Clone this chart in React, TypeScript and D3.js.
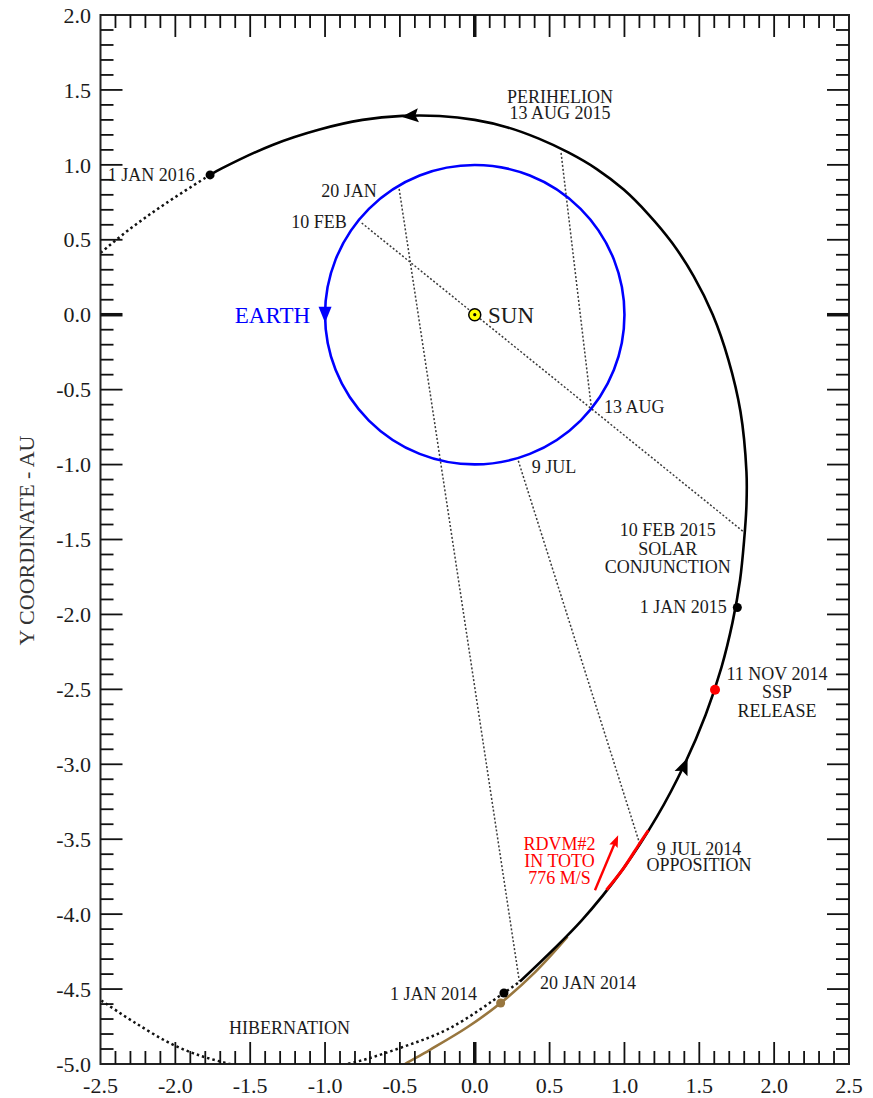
import React from "react";
import * as d3 from "d3";

type P = [number, number];

// ---------- data (AU, heliocentric) ----------
const xTickValues = [-2.5, -2.0, -1.5, -1.0, -0.5, 0.0, 0.5, 1.0, 1.5, 2.0, 2.5];
const yTickValues = [-5.0, -4.5, -4.0, -3.5, -3.0, -2.5, -2.0, -1.5, -1.0, -0.5, 0.0, 0.5, 1.0, 1.5, 2.0];

// solid orbit, 20 JAN 2014 -> 1 JAN 2016
const cometOrbit: P[] = [
  [0.302, -4.449], [0.713, -4.043], [0.991, -3.698], [1.218, -3.348], [1.400, -3.003],
  [1.542, -2.671], [1.648, -2.353], [1.722, -2.053], [1.772, -1.772], [1.799, -1.510],
  [1.815, -1.271], [1.815, -1.048], [1.775, -0.646], [1.694, -0.299], [1.590, 0.0],
  [1.462, 0.258], [1.318, 0.480], [1.160, 0.670], [0.995, 0.835], [0.815, 0.972],
  [0.625, 1.083], [0.428, 1.175], [0.220, 1.250], [0.0, 1.300], [-0.235, 1.326],
  [-0.483, 1.327], [-0.750, 1.300], [-1.037, 1.236], [-1.351, 1.133], [-1.690, 0.976],
  [-1.768, 0.933],
];
// red arc, rendezvous manoeuvre
const rdvmArc: P[] = [[0.880, -3.838], [0.991, -3.698], [1.100, -3.530], [1.160, -3.440]];
// dotted continuation after 1 JAN 2016
const orbitAfter2016: P[] = [[-1.768, 0.933], [-2.056, 0.748], [-2.300, 0.575], [-2.550, 0.370]];
// dotted hibernation track up to 20 JAN 2014
const hibernationTrack: P[] = [
  [-2.62, -4.50], [-2.49, -4.58], [-2.283, -4.716], [-1.991, -4.883], [-1.702, -4.983],
  [-1.300, -5.055], [-0.855, -5.0], [-0.499, -4.893], [-0.165, -4.760], [0.195, -4.526],
  [0.302, -4.449],
];
// brown approach track
const approachTrack: P[] = [
  [-0.55, -5.05], [-0.466, -5.0], [-0.299, -4.905], [-0.05, -4.755], [0.173, -4.593],
  [0.40, -4.39], [0.62, -4.15],
];
const earthOrbitRadius = 1.0;
const sunPos: P = [0, 0];

const sightLines: { from: P; to: P }[] = [
  { from: [-0.505, 0.840], to: [0.298, -4.449] },   // 20 JAN
  { from: [-0.755, 0.612], to: [1.805, -1.456] },   // 10 FEB (conjunction)
  { from: [0.780, -0.630], to: [0.576, 1.086] },    // 13 AUG (perihelion)
  { from: [0.291, -0.975], to: [1.104, -3.537] },   // 9 JUL (opposition)
];

const blackDots: P[] = [[-1.768, 0.933], [1.754, -1.954], [0.195, -4.526]];
const redDots: P[] = [[1.605, -2.503]];
const brownDots: P[] = [[0.173, -4.593]];

const orbitArrows: { at: P; toward: P }[] = [
  { at: [-0.433, 1.326], toward: [-0.750, 1.300] },
  { at: [1.400, -3.010], toward: [1.542, -2.671] },
];
const earthArrowAt: P = [-1.0, 0.0];
const rdvmVector: { from: P; to: P } = { from: [0.803, -3.840], to: [0.958, -3.473] };

type Label = { lines: string[]; at: P; anchor: "start" | "middle" | "end"; kind: string };
const labels: Label[] = [
  { lines: ["PERIHELION", "13 AUG 2015"], at: [0.570, 1.411], anchor: "middle", kind: "note" },
  { lines: ["1 JAN 2016"], at: [-1.87, 0.895], anchor: "end", kind: "note" },
  { lines: ["20 JAN"], at: [-0.655, 0.788], anchor: "end", kind: "note" },
  { lines: ["10 FEB"], at: [-0.855, 0.577], anchor: "end", kind: "note" },
  { lines: ["EARTH"], at: [-1.10, -0.053], anchor: "end", kind: "earth" },
  { lines: ["SUN"], at: [0.089, -0.053], anchor: "start", kind: "big" },
  { lines: ["13 AUG"], at: [0.863, -0.657], anchor: "start", kind: "note" },
  { lines: ["9 JUL"], at: [0.380, -1.057], anchor: "start", kind: "note" },
  { lines: ["10 FEB 2015", "SOLAR", "CONJUNCTION"], at: [1.290, -1.476], anchor: "middle", kind: "note" },
  { lines: ["1 JAN 2015"], at: [1.683, -1.991], anchor: "end", kind: "note" },
  { lines: ["11 NOV 2014", "SSP", "RELEASE"], at: [2.019, -2.436], anchor: "middle", kind: "note" },
  { lines: ["RDVM#2", "IN TOTO", "776 M/S"], at: [0.566, -3.570], anchor: "middle", kind: "red" },
  { lines: ["9 JUL 2014", "OPPOSITION"], at: [1.498, -3.604], anchor: "middle", kind: "note" },
  { lines: ["1 JAN 2014"], at: [-0.566, -4.571], anchor: "start", kind: "note" },
  { lines: ["20 JAN 2014"], at: [0.436, -4.500], anchor: "start", kind: "note" },
  { lines: ["HIBERNATION"], at: [-1.237, -4.798], anchor: "middle", kind: "note" },
];
const yAxisTitle = "Y COORDINATE - AU";

// ---------- styles ----------
const W = 873;
const H = 1098;
const FONT = "'Liberation Serif', 'Times New Roman', Times, serif";
const TEXT = "#1b1b1b";
const BROWN = "#98763e";
const labelStyle: Record<string, { size: number; color: string; lh: number }> = {
  note: { size: 18, color: TEXT, lh: 18.6 },
  red: { size: 18, color: "#ff0000", lh: 17 },
  earth: { size: 23, color: "#0000ff", lh: 20 },
  big: { size: 23, color: TEXT, lh: 20 },
};
const lineHeights: Record<string, number> = { PERIHELION: 15.5, "9 JUL 2014": 16.7 };

export default function App() {
  const x = d3.scaleLinear().domain([-2.5, 2.5]).range([100.5, 849]);
  const y = d3.scaleLinear().domain([-5, 2]).range([1064, 15]);
  const [x0, x1] = x.range();
  const [y0, y1] = [y(2), y(-5)];

  const line = d3
    .line<P>()
    .x((d) => x(d[0]))
    .y((d) => y(d[1]))
    .curve(d3.curveCatmullRom.alpha(0.5));
  const straight = d3.line<P>().x((d) => x(d[0])).y((d) => y(d[1]));

  const isMajor = (v: number) => Math.abs(v * 2 - Math.round(v * 2)) < 1e-6;
  const isZero = (v: number) => Math.abs(v) < 1e-6;
  const minorX = x.ticks(50).filter((v) => v > -2.49 && v < 2.49);
  const minorY = y.ticks(70).filter((v) => v > -4.99 && v < 1.99);
  const MAJ = 22;
  const MIN = 13;

  const arrowHead = (px: number, py: number, ang: number, L: number, w: number, notch: number) => {
    const c = Math.cos(ang), s = Math.sin(ang);
    const pt = (a: number, b: number) => [px + a * c - b * s, py + a * s + b * c];
    const tip = pt(L / 2, 0);
    const bl = pt(-L / 2, -w);
    const nb = pt(-L / 2 + notch, 0);
    const br = pt(-L / 2, w);
    return `M${tip[0]},${tip[1]}L${bl[0]},${bl[1]}L${nb[0]},${nb[1]}L${br[0]},${br[1]}Z`;
  };

  const rTip = [x(rdvmVector.to[0]), y(rdvmVector.to[1])];
  const rTail = [x(rdvmVector.from[0]), y(rdvmVector.from[1])];
  const rAng = Math.atan2(rTip[1] - rTail[1], rTip[0] - rTail[0]);

  return (
    <svg
      width={W}
      height={H}
      style={{ position: "absolute", left: 0, top: 0, background: "#fff" }}
      fontFamily={FONT}
    >
      <defs>
        <clipPath id="plot">
          <rect x={x0} y={y0} width={x1 - x0} height={y1 - y0} />
        </clipPath>
      </defs>
      <rect width={W} height={H} fill="#fff" />

      <g clipPath="url(#plot)">
        {/* sight lines */}
        {sightLines.map((s, i) => (
          <path
            key={i}
            d={straight([s.from, s.to]) || ""}
            fill="none"
            stroke="#3a3a3a"
            strokeWidth={1.5}
            strokeDasharray="2,2"
          />
        ))}
        {/* earth orbit */}
        <circle
          cx={x(sunPos[0])}
          cy={y(sunPos[1])}
          r={x(earthOrbitRadius) - x(0)}
          fill="none"
          stroke="#0000ff"
          strokeWidth={2.6}
        />
        {/* tracks */}
        <path d={line(approachTrack) || ""} fill="none" stroke={BROWN} strokeWidth={2.6} />
        <path
          d={line(hibernationTrack) || ""}
          fill="none"
          stroke="#111"
          strokeWidth={2.5}
          strokeDasharray="2.5,3"
        />
        <path
          d={line(orbitAfter2016) || ""}
          fill="none"
          stroke="#111"
          strokeWidth={2.5}
          strokeDasharray="2.5,3"
        />
        <path d={line(cometOrbit) || ""} fill="none" stroke="#000" strokeWidth={2.6} />
        <path d={line(rdvmArc) || ""} fill="none" stroke="#ff0000" strokeWidth={3} />

        {orbitArrows.map((a, i) => {
          const px = x(a.at[0]), py = y(a.at[1]);
          const ang = Math.atan2(y(a.toward[1]) - py, x(a.toward[0]) - px);
          return <path key={i} d={arrowHead(px, py, ang, 17, 7, 3)} fill="#000" />;
        })}
        <path
          d={arrowHead(x(earthArrowAt[0]), y(earthArrowAt[1]), Math.PI / 2, 16, 6.5, 0)}
          fill="#0000ff"
        />

        {/* rdvm vector */}
        <line
          x1={rTail[0]}
          y1={rTail[1]}
          x2={rTip[0] - 8 * Math.cos(rAng)}
          y2={rTip[1] - 8 * Math.sin(rAng)}
          stroke="#ff0000"
          strokeWidth={2.4}
        />
        <path
          d={arrowHead(rTip[0] - 6 * Math.cos(rAng), rTip[1] - 6 * Math.sin(rAng), rAng, 12, 4.5, 2)}
          fill="#ff0000"
        />

        {/* dots */}
        {blackDots.map((d, i) => (
          <circle key={"b" + i} cx={x(d[0])} cy={y(d[1])} r={4.5} fill="#000" />
        ))}
        {brownDots.map((d, i) => (
          <circle key={"br" + i} cx={x(d[0])} cy={y(d[1])} r={4.5} fill={BROWN} />
        ))}
        {redDots.map((d, i) => (
          <circle key={"r" + i} cx={x(d[0])} cy={y(d[1])} r={5} fill="#ff0000" />
        ))}
        {/* sun */}
        <circle cx={x(sunPos[0])} cy={y(sunPos[1])} r={6} fill="#ffff00" stroke="#000" strokeWidth={1.5} />
        <circle cx={x(sunPos[0])} cy={y(sunPos[1])} r={1.6} fill="#000" />
      </g>

      {/* frame */}
      <rect x={x0} y={y0} width={x1 - x0} height={y1 - y0} fill="none" stroke="#222" strokeWidth={2} />

      {/* x ticks (bottom and top, inward) */}
      {minorX.map((v) => {
        const len = isMajor(v) ? MAJ : MIN;
        const sw = isZero(v) ? 3.5 : 1.8;
        return (
          <g key={"xt" + v}>
            <line x1={x(v)} x2={x(v)} y1={y1} y2={y1 - len} stroke="#111" strokeWidth={sw} />
            <line x1={x(v)} x2={x(v)} y1={y0} y2={y0 + len} stroke="#111" strokeWidth={sw} />
          </g>
        );
      })}
      {minorY.map((v) => {
        const len = isMajor(v) ? MAJ : MIN;
        const sw = isZero(v) ? 3.5 : 1.8;
        return (
          <g key={"yt" + v}>
            <line x1={x0} x2={x0 + len} y1={y(v)} y2={y(v)} stroke="#111" strokeWidth={sw} />
            <line x1={x1} x2={x1 - len} y1={y(v)} y2={y(v)} stroke="#111" strokeWidth={sw} />
          </g>
        );
      })}

      {/* tick labels */}
      {xTickValues.map((v) => (
        <text key={"xl" + v} x={x(v)} y={1093} textAnchor="middle" fontSize={22} fill={TEXT}>
          {v.toFixed(1)}
        </text>
      ))}
      {yTickValues.map((v) => (
        <text
          key={"yl" + v}
          x={91}
          y={y(v)}
          dy="0.35em"
          textAnchor="end"
          fontSize={22}
          fill={TEXT}
        >
          {v.toFixed(1)}
        </text>
      ))}
      <text
        transform={`translate(34,${(y0 + y1) / 2 + 1}) rotate(-90)`}
        textAnchor="middle"
        fontSize={22}
        fill="#333"
      >
        {yAxisTitle}
      </text>

      {/* annotations */}
      {labels.map((l, i) => {
        const st = labelStyle[l.kind];
        const lh = lineHeights[l.lines[0]] ?? st.lh;
        return (
          <text
            key={"an" + i}
            x={x(l.at[0])}
            y={y(l.at[1])}
            textAnchor={l.anchor}
            fontSize={st.size}
            fill={st.color}
          >
            {l.lines.map((t, j) => (
              <tspan key={j} x={x(l.at[0])} dy={j === 0 ? 0 : lh}>
                {t}
              </tspan>
            ))}
          </text>
        );
      })}
    </svg>
  );
}
